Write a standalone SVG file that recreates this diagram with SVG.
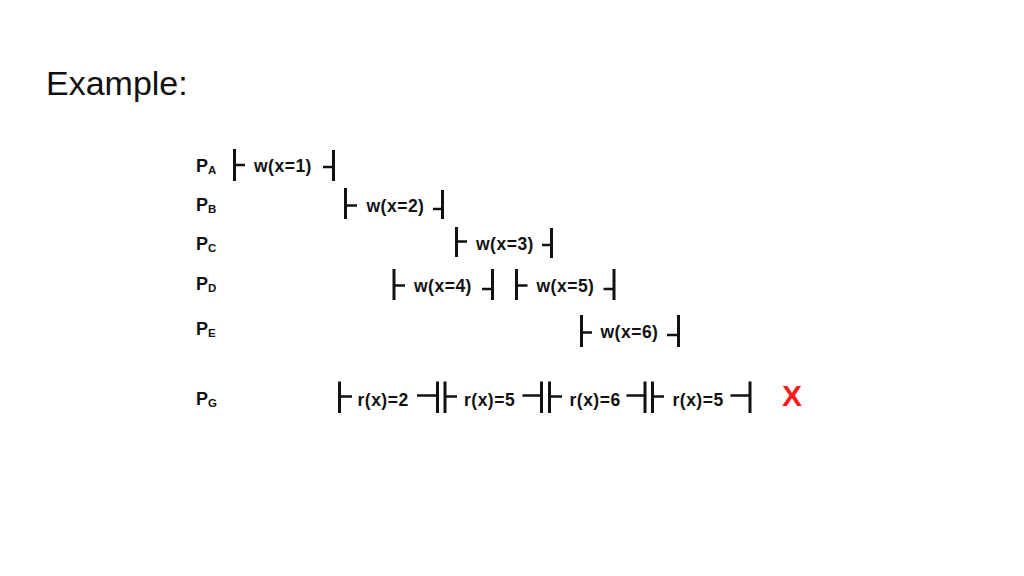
<svg xmlns="http://www.w3.org/2000/svg" width="1024" height="576" viewBox="0 0 1024 576">
<style>
  .bar{stroke:#111;stroke-width:3;fill:none;stroke-linecap:butt}
  .tick{stroke:#111;stroke-width:2.5;fill:none}
  .op{font-family:"Liberation Sans",Arial,sans-serif;font-weight:bold;font-size:17.5px;letter-spacing:0.5px;fill:#111}
  .p{font-family:"Liberation Sans",Arial,sans-serif;font-weight:bold;font-size:18px;fill:#111}
  .sub{font-family:"Liberation Sans",Arial,sans-serif;font-size:11.5px;fill:#111}
  .title{font-family:"Liberation Sans",Arial,sans-serif;font-size:34px;fill:#111}
  .x{font-family:"Liberation Sans",Arial,sans-serif;font-weight:bold;font-size:30px;fill:#ff1a1a}
</style>
<rect width="1024" height="576" fill="#fff"/>
<text class="title" x="46" y="95">Example:</text>

<g id="labels">
  <text class="p" x="196" y="172">P<tspan class="sub" dy="2">A</tspan></text>
  <text class="p" x="196" y="211">P<tspan class="sub" dy="2">B</tspan></text>
  <text class="p" x="196" y="250">P<tspan class="sub" dy="2">C</tspan></text>
  <text class="p" x="196" y="290">P<tspan class="sub" dy="2">D</tspan></text>
  <text class="p" x="196" y="335">P<tspan class="sub" dy="2">E</tspan></text>
  <text class="p" x="196" y="405">P<tspan class="sub" dy="2">G</tspan></text>
</g>

<g id="opA1">
  <path class="bar" d="M234.5 149V181"/><path class="tick" d="M234.5 165H245"/>
  <text class="op" x="254" y="172">w(x=1)</text>
  <path class="tick" d="M323 167H333.5"/><path class="bar" d="M333.5 150V181"/>
</g>
<g id="opB1">
  <path class="bar" d="M345.5 188V219"/><path class="tick" d="M345.5 205.5H357"/>
  <text class="op" x="366.5" y="212">w(x=2)</text>
  <path class="tick" d="M433 209H442.5"/><path class="bar" d="M442.5 190V219"/>
</g>
<g id="opC1">
  <path class="bar" d="M456.5 227V257"/><path class="tick" d="M456.5 241.5H467"/>
  <text class="op" x="476" y="250">w(x=3)</text>
  <path class="tick" d="M542 245H551.5"/><path class="bar" d="M551.5 228V258"/>
</g>
<g id="opD1">
  <path class="bar" d="M394 269V300"/><path class="tick" d="M394 285.5H405"/>
  <text class="op" x="414" y="292">w(x=4)</text>
  <path class="tick" d="M482 289H492.5"/><path class="bar" d="M492.5 269V300"/>
</g>
<g id="opD2">
  <path class="bar" d="M516.5 269V300"/><path class="tick" d="M516.5 285.5H527.5"/>
  <text class="op" x="536.5" y="292">w(x=5)</text>
  <path class="tick" d="M603.5 289H614"/><path class="bar" d="M614 269V300"/>
</g>
<g id="opE1">
  <path class="bar" d="M581.5 315V347"/><path class="tick" d="M581.5 332.5H592"/>
  <text class="op" x="600.5" y="338">w(x=6)</text>
  <path class="tick" d="M667 335H678.5"/><path class="bar" d="M678.5 315V347"/>
</g>

<g id="opG1">
  <path class="bar" d="M339.5 381.5V413"/><path class="tick" d="M339.5 396.5H352"/>
  <text class="op" x="357.5" y="406">r(x)=2</text>
  <path class="tick" d="M417 395.5H437.5"/><path class="bar" d="M437.5 381.5V413"/>
</g>
<g id="opG2">
  <path class="bar" d="M445 381.5V413"/><path class="tick" d="M445 396.5H457"/>
  <text class="op" x="464" y="406">r(x)=5</text>
  <path class="tick" d="M522.5 395.5H541.5"/><path class="bar" d="M541.5 381.5V413"/>
</g>
<g id="opG3">
  <path class="bar" d="M549.5 381.5V413"/><path class="tick" d="M549.5 396.5H562"/>
  <text class="op" x="569.5" y="406">r(x)=6</text>
  <path class="tick" d="M626.5 395.5H645"/><path class="bar" d="M645 381.5V413"/>
</g>
<g id="opG4">
  <path class="bar" d="M652.5 381.5V413"/><path class="tick" d="M652.5 396.5H664"/>
  <text class="op" x="672.5" y="406">r(x)=5</text>
  <path class="tick" d="M730.5 395.5H750"/><path class="bar" d="M750 381.5V413"/>
</g>
<g id="mark">
  <text class="x" x="782" y="406">X</text>
</g>
<g id="connectors"/>
</svg>
